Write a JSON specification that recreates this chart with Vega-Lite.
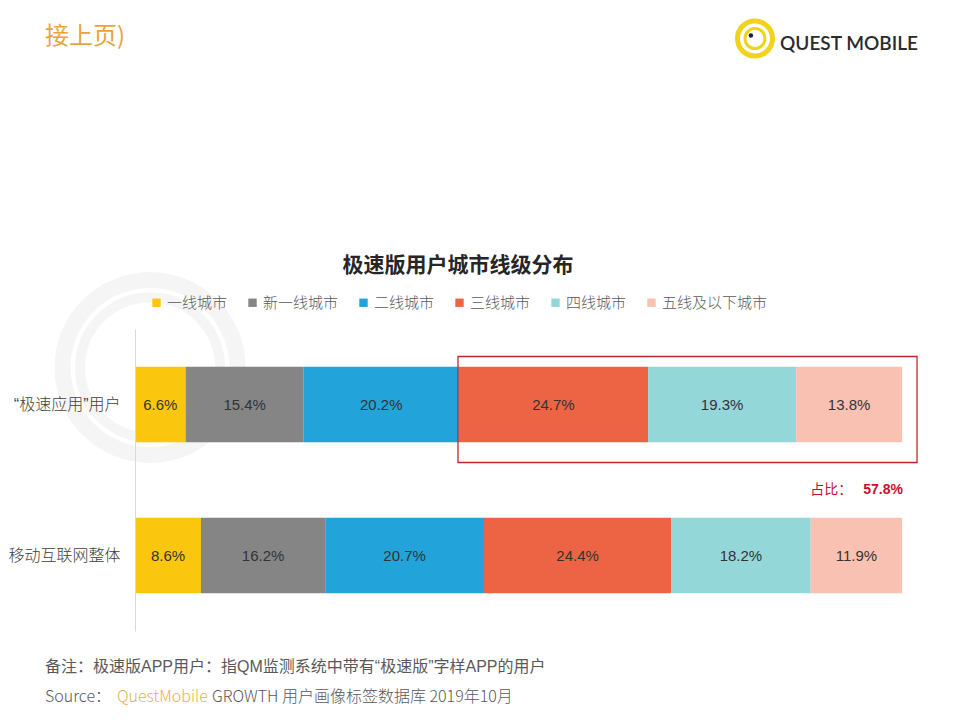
{
  "$schema": "https://vega.github.io/schema/vega-lite/v6.json",
  "autosize": {"type": "none"},
  "width": 767,
  "height": 302,
  "padding": {"left": 135, "right": 58, "top": 329, "bottom": 89},
  "background": "white",
  "config": {
    "view": {"stroke": null},
    "text": {"font": "Liberation Sans"}
  },
  "data": {"values": [{"note": "annotation"}]},
  "datasets": {
    "bars": [
      {"group": "“极速应用”用户", "tier": "一线城市", "share": 0.066},
      {"group": "“极速应用”用户", "tier": "新一线城市", "share": 0.154},
      {"group": "“极速应用”用户", "tier": "二线城市", "share": 0.202},
      {"group": "“极速应用”用户", "tier": "三线城市", "share": 0.247},
      {"group": "“极速应用”用户", "tier": "四线城市", "share": 0.193},
      {"group": "“极速应用”用户", "tier": "五线及以下城市", "share": 0.138},
      {"group": "移动互联网整体", "tier": "一线城市", "share": 0.086},
      {"group": "移动互联网整体", "tier": "新一线城市", "share": 0.162},
      {"group": "移动互联网整体", "tier": "二线城市", "share": 0.207},
      {"group": "移动互联网整体", "tier": "三线城市", "share": 0.244},
      {"group": "移动互联网整体", "tier": "四线城市", "share": 0.182},
      {"group": "移动互联网整体", "tier": "五线及以下城市", "share": 0.119}
    ],
    "highlight": [
      {"group": "“极速应用”用户", "start": 0.4211, "end": 1.0196}
    ]
  },
  "layer": [
    {
      "mark": {"type": "point", "filled": false, "stroke": "#f5f5f5", "strokeWidth": 16, "size": 30625, "opacity": 1, "yOffset": -37},
      "encoding": {
        "x": {"datum": 0.0196, "type": "quantitative"},
        "y": {"datum": "“极速应用”用户", "type": "nominal"}
      }
    },
    {
      "mark": {"type": "point", "filled": false, "stroke": "#f5f5f5", "strokeWidth": 10, "size": 19600, "opacity": 1, "yOffset": -37},
      "encoding": {
        "x": {"datum": 0.0196, "type": "quantitative"},
        "y": {"datum": "“极速应用”用户", "type": "nominal"}
      }
    },
    {
      "data": {"name": "bars"},
      "transform": [
        {"calculate": "indexof(['一线城市','新一线城市','二线城市','三线城市','四线城市','五线及以下城市'], datum.tier)", "as": "tierOrder"},
        {"stack": "share", "groupby": ["group"], "sort": [{"field": "tierOrder", "order": "ascending"}], "as": ["x0", "x1"]},
        {"calculate": "(datum.x0 + datum.x1) / 2", "as": "xmid"}
      ],
      "layer": [
        {
          "mark": {"type": "bar"},
          "encoding": {
            "y": {
              "field": "group",
              "type": "nominal",
              "sort": ["“极速应用”用户", "移动互联网整体"],
              "scale": {"domain": ["“极速应用”用户", "移动互联网整体"], "paddingInner": 0.5, "paddingOuter": 0.25},
              "axis": {
                "title": null,
                "ticks": false,
                "zindex": 1,
                "labelPadding": 15,
                "labelFontSize": 16,
                "labelFont": "Liberation Sans, Noto Sans CJK SC",
                "labelFontWeight": 300,
                "labelColor": "#404040",
                "domainColor": "#d9d9d9",
                "domainWidth": 1
              }
            },
            "x": {
              "field": "x0",
              "type": "quantitative",
              "scale": {"domain": [0, 1], "nice": false},
              "axis": null
            },
            "x2": {"field": "x1"},
            "color": {
              "field": "tier",
              "type": "nominal",
              "scale": {
                "domain": ["一线城市", "新一线城市", "二线城市", "三线城市", "四线城市", "五线及以下城市"],
                "range": ["#fbc60e", "#858585", "#22a3d9", "#ec6443", "#94d7d9", "#f9c1b1"]
              },
              "legend": {
                "title": null,
                "orient": "none",
                "direction": "horizontal",
                "legendX": 14,
                "legendY": -34,
                "symbolType": "square",
                "symbolSize": 70,
                "symbolStrokeWidth": 0,
                "labelFontSize": 15,
                "labelFont": "Noto Sans CJK SC",
                "labelFontWeight": 300,
                "labelColor": "#595959",
                "labelOffset": 3,
                "columnPadding": 17
              }
            }
          }
        },
        {
          "mark": {"type": "text", "fontSize": 15, "color": "#333333", "baseline": "middle", "align": "center"},
          "encoding": {
            "y": {"field": "group", "type": "nominal"},
            "x": {"field": "xmid", "type": "quantitative"},
            "text": {"field": "share", "type": "quantitative", "format": ".1%"}
          }
        }
      ]
    },
    {
      "data": {"name": "highlight"},
      "mark": {"type": "bar", "height": 106, "fill": "transparent", "stroke": "#c0272d", "strokeWidth": 1.3, "yOffset": 5},
      "encoding": {
        "y": {"field": "group", "type": "nominal"},
        "x": {"field": "start", "type": "quantitative"},
        "x2": {"field": "end"}
      }
    },
    {
      "mark": {"type": "text", "align": "center", "baseline": "middle", "dy": -139, "fontSize": 21, "fontWeight": "bold", "font": "Noto Sans CJK SC", "color": "#262626"},
      "encoding": {
        "x": {"datum": 0.4211, "type": "quantitative"},
        "y": {"datum": "“极速应用”用户", "type": "nominal"},
        "text": {"value": "极速版用户城市线级分布"}
      }
    },
    {
      "mark": {"type": "text", "align": "right", "baseline": "middle", "dy": 85, "fontSize": 14, "font": "Noto Sans CJK SC", "color": "#c8102e"},
      "encoding": {
        "x": {"datum": 0.935, "type": "quantitative"},
        "y": {"datum": "“极速应用”用户", "type": "nominal"},
        "text": {"value": "占比："}
      }
    },
    {
      "mark": {"type": "text", "align": "right", "baseline": "middle", "dy": 85, "fontSize": 14, "fontWeight": "bold", "color": "#c8102e"},
      "encoding": {
        "x": {"datum": 1.0013, "type": "quantitative"},
        "y": {"datum": "“极速应用”用户", "type": "nominal"},
        "text": {"value": "57.8%"}
      }
    },
    {
      "mark": {"type": "text", "align": "left", "baseline": "middle", "dy": -368, "fontSize": 24, "font": "Noto Sans CJK SC", "color": "#e9a33b"},
      "encoding": {
        "x": {"datum": -0.1173, "type": "quantitative"},
        "y": {"datum": "“极速应用”用户", "type": "nominal"},
        "text": {"value": "接上页)"}
      }
    },
    {
      "mark": {"type": "point", "filled": false, "stroke": "#f2d31b", "strokeWidth": 5, "size": 1225, "opacity": 1, "yOffset": -366},
      "encoding": {
        "x": {"datum": 0.8083, "type": "quantitative"},
        "y": {"datum": "“极速应用”用户", "type": "nominal"}
      }
    },
    {
      "mark": {"type": "point", "filled": false, "stroke": "#f2d31b", "strokeWidth": 3, "size": 400, "opacity": 1, "yOffset": -366},
      "encoding": {
        "x": {"datum": 0.8083, "type": "quantitative"},
        "y": {"datum": "“极速应用”用户", "type": "nominal"}
      }
    },
    {
      "mark": {"type": "point", "filled": true, "color": "#222222", "size": 20, "opacity": 1, "yOffset": -369},
      "encoding": {
        "x": {"datum": 0.803, "type": "quantitative"},
        "y": {"datum": "“极速应用”用户", "type": "nominal"}
      }
    },
    {
      "mark": {"type": "text", "align": "left", "baseline": "middle", "dy": -361, "fontSize": 19, "font": "Lato", "fontWeight": 600, "color": "#2b2b2b"},
      "encoding": {
        "x": {"datum": 0.841, "type": "quantitative"},
        "y": {"datum": "“极速应用”用户", "type": "nominal"},
        "text": {"value": "QUEST MOBILE"}
      }
    },
    {
      "mark": {"type": "text", "align": "left", "baseline": "middle", "dy": 111, "fontSize": 16, "font": "Liberation Sans, Noto Sans CJK SC", "color": "#595959"},
      "encoding": {
        "x": {"datum": -0.1173, "type": "quantitative"},
        "y": {"datum": "移动互联网整体", "type": "nominal"},
        "text": {"value": "备注：极速版APP用户：指QM监测系统中带有“极速版”字样APP的用户"}
      }
    },
    {
      "mark": {"type": "text", "align": "left", "baseline": "middle", "dy": 141, "fontSize": 16, "font": "Noto Sans CJK SC", "fontWeight": 300, "color": "#595959"},
      "encoding": {
        "x": {"datum": -0.1173, "type": "quantitative"},
        "y": {"datum": "移动互联网整体", "type": "nominal"},
        "text": {"value": "Source："}
      }
    },
    {
      "mark": {"type": "text", "align": "left", "baseline": "middle", "dy": 141, "fontSize": 16, "font": "Noto Sans CJK SC", "fontWeight": 300, "color": "#eab04f"},
      "encoding": {
        "x": {"datum": -0.0235, "type": "quantitative"},
        "y": {"datum": "移动互联网整体", "type": "nominal"},
        "text": {"value": "QuestMobile"}
      }
    },
    {
      "mark": {"type": "text", "align": "left", "baseline": "middle", "dy": 141, "fontSize": 16, "font": "Noto Sans CJK SC", "fontWeight": 300, "color": "#595959"},
      "encoding": {
        "x": {"datum": 0.1004, "type": "quantitative"},
        "y": {"datum": "移动互联网整体", "type": "nominal"},
        "text": {"value": "GROWTH 用户画像标签数据库 2019年10月"}
      }
    }
  ]
}
